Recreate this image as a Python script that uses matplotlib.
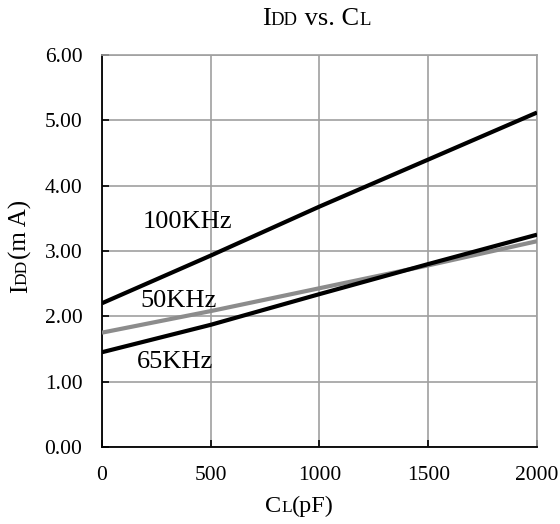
import matplotlib.pyplot as plt

# data
cl_pf = [0, 500, 1000, 1500, 2000]
idd_100k = [2.20, 2.93, 3.68, 4.40, 5.12]
idd_50k = [1.75, 2.08, 2.43, 2.78, 3.15]
idd_65k = [1.45, 1.87, 2.34, 2.80, 3.25]

x_ticks = [0, 500, 1000, 1500, 2000]
y_ticks = [0, 1, 2, 3, 4, 5, 6]

plt.rcParams['font.family'] = ['Liberation Serif', 'DejaVu Serif']

fig = plt.figure(figsize=(5.6, 5.24), dpi=100)
ax = fig.add_axes([0.182, 0.147, 0.777, 0.748])

ax.plot(cl_pf, idd_50k, color='#8c8c8c', lw=3.0, solid_capstyle='butt', zorder=3)
ax.plot(cl_pf, idd_65k, color='black', lw=3.0, solid_capstyle='butt', zorder=4)
ax.plot(cl_pf, idd_100k, color='black', lw=3.0, solid_capstyle='butt', zorder=4)

ax.set_xlim(0, 2000)
ax.set_ylim(0, 6)
ax.set_xticks(x_ticks)
ax.set_yticks(y_ticks)
ax.set_yticklabels([f"{v:.2f}" for v in y_ticks])
ax.grid(True, color='#a0a0a0', lw=1.2, zorder=1)
ax.tick_params(direction='in', length=5, width=1.2, labelsize=15.5, pad=14, colors='black')
for s in ['left', 'bottom']:
    ax.spines[s].set_linewidth(1.3)
for s in ['top', 'right']:
    ax.spines[s].set_color('#a0a0a0')
    ax.spines[s].set_linewidth(1.2)

ax.text(188, 3.35, "100KHz", fontsize=19, va='baseline')
ax.text(175, 2.14, "50KHz", fontsize=19, va='baseline')
ax.text(161, 1.21, "65KHz", fontsize=19, va='baseline')

renderer = fig.canvas.get_renderer()


def chain(x, y, pieces, rot=0):
    # draw text pieces of mixed size on one baseline (fake small caps)
    W, H = fig.bbox.width, fig.bbox.height
    for txt, size in pieces:
        t = fig.text(x, y, txt, fontsize=size, rotation=rot,
                     rotation_mode='anchor', ha='left', va='baseline')
        bb = t.get_window_extent(renderer)
        if rot == 0:
            x += bb.width / W
        else:
            y += bb.height / H


# title "IDD vs. CL"
chain(0.468, 0.952, [("I", 19), ("DD", 13.5), (" vs. C", 19), ("L", 13.5)])
# x label "CL(pF)"
chain(0.473, 0.023, [("C", 17.5), ("L", 12.5), ("(pF)", 17.5)])
# y label "IDD(mA)"
chain(0.048, 0.441, [("I", 18), ("DD", 12.5), ("(m A)", 18)], rot=90)

fig.savefig("out.png", dpi=100)
